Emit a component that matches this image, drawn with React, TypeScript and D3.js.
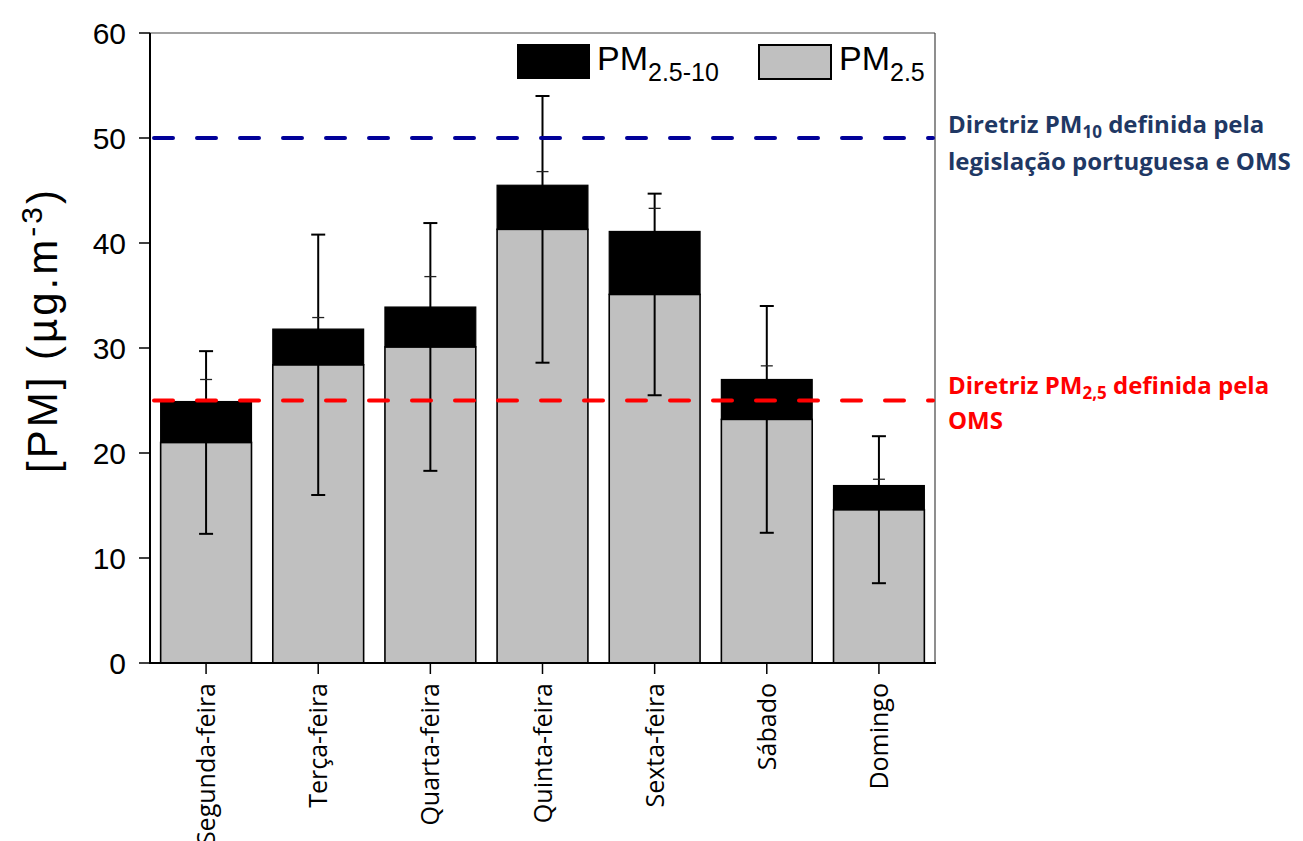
import React from "react";
import { scaleLinear, scaleBand } from "d3";

const days = ["Segunda-feira", "Terça-feira", "Quarta-feira", "Quinta-feira", "Sexta-feira", "Sábado", "Domingo"];
const pm25 = [21.0, 28.4, 30.1, 41.3, 35.1, 23.2, 14.6];
const pmCoarse = [3.9, 3.4, 3.8, 4.2, 6.0, 3.8, 2.3];
const pm25Err = [8.7, 12.4, 11.8, 12.7, 9.6, 10.8, 7.0];
const pmTotalErr = [2.1, 1.1, 2.9, 1.3, 2.2, 1.3, 0.6];
const yTicks = [0, 10, 20, 30, 40, 50, 60];
const pm10Limit = 50;
const pm25Limit = 25;

const App = () => {
    const width = 1303;
    const height = 841;
    const left = 150, right = 935, top = 33, bottom = 663;

    // scales
    const y = scaleLinear().domain([0, 60]).range([bottom, top]);
    const x = scaleBand<string>().domain(days).range([left, right]).paddingInner(0.19).paddingOuter(0.095);
    const bw = x.bandwidth();

    const bars = days.map((d, i) => {
        const x0 = x(d) as number;
        const cx = x0 + bw / 2;
        const total = pm25[i] + pmCoarse[i];
        return (
            <g key={d}>
                <rect x={x0} y={y(pm25[i])} width={bw} height={bottom - y(pm25[i])}
                    fill="#C0C0C0" stroke="#000" strokeWidth={1.6} />
                <rect x={x0} y={y(total)} width={bw} height={y(pm25[i]) - y(total)}
                    fill="#000" stroke="#000" strokeWidth={1.2} />
                {/* PM2.5 error bar */}
                <line x1={cx} x2={cx} y1={y(pm25[i] - pm25Err[i])} y2={y(pm25[i] + pm25Err[i])} stroke="#000" strokeWidth={2} />
                <line x1={cx - 7} x2={cx + 7} y1={y(pm25[i] + pm25Err[i])} y2={y(pm25[i] + pm25Err[i])} stroke="#000" strokeWidth={2} />
                <line x1={cx - 7} x2={cx + 7} y1={y(pm25[i] - pm25Err[i])} y2={y(pm25[i] - pm25Err[i])} stroke="#000" strokeWidth={2} />
                {/* total error bar (up only) */}
                <line x1={cx - 6} x2={cx + 6} y1={y(total + pmTotalErr[i])} y2={y(total + pmTotalErr[i])} stroke="#222" strokeWidth={1.3} />
            </g>
        );
    });

    const yAxis = yTicks.map((t) => (
        <g key={t}>
            <line x1={left - 11} x2={left} y1={y(t)} y2={y(t)} stroke="#000" strokeWidth={1.5} />
            <text x={126} y={y(t)} dy="0.36em" textAnchor="end" fontSize={30}
                fontFamily="Liberation Sans, Arial, sans-serif">{t}</text>
        </g>
    ));

    const xAxis = days.map((d) => {
        const cx = (x(d) as number) + bw / 2;
        return (
            <g key={d}>
                <line x1={cx} x2={cx} y1={bottom} y2={bottom + 11} stroke="#000" strokeWidth={1.5} />
                <text transform={`translate(${cx},${bottom + 20}) rotate(-90)`} dy="0.36em"
                    textAnchor="end" fontSize={25} fontFamily="Open Sans, sans-serif">{d}</text>
            </g>
        );
    });

    return (
        <svg width={width} height={height} viewBox={`0 0 ${width} ${height}`}
            style={{ position: "absolute", left: 0, top: 0, background: "#fff" }}>
            {bars}
            {/* frame */}
            <line x1={left} x2={right} y1={top} y2={top} stroke="#444" strokeWidth={1.2} />
            <line x1={right} x2={right} y1={top} y2={bottom} stroke="#444" strokeWidth={1.2} />
            <line x1={left} x2={left} y1={top} y2={bottom} stroke="#000" strokeWidth={2} />
            <line x1={left - 1} x2={right + 1} y1={bottom} y2={bottom} stroke="#000" strokeWidth={2} />
            {/* guideline lines */}
            <line x1={left + 4} x2={right - 2} y1={y(pm10Limit)} y2={y(pm10Limit)} stroke="#000099"
                strokeWidth={4} strokeDasharray="19 24" strokeLinecap="round" />
            <line x1={left + 4} x2={right - 2} y1={y(pm25Limit)} y2={y(pm25Limit)} stroke="#FF0000"
                strokeWidth={4} strokeDasharray="19 24" strokeLinecap="round" />
            {yAxis}
            {xAxis}
            <text transform="translate(42,330) rotate(-90)" dy="0.36em" textAnchor="middle" fontSize={42}
                letterSpacing={3} fontFamily="Liberation Sans, Arial, sans-serif">
                [PM] (µg.m<tspan dy="-15" fontSize={30}>-3</tspan><tspan dy="15">)</tspan>
            </text>
            {/* legend */}
            <rect x={517} y={44} width={73} height={35} fill="#000" />
            <text x={597} y={70} fontSize={34} fontFamily="Liberation Sans, Arial, sans-serif">
                PM<tspan dy="11" fontSize={25}>2.5-10</tspan>
            </text>
            <rect x={759} y={45} width={72} height={34} fill="#C0C0C0" stroke="#000" strokeWidth={2} />
            <text x={839} y={70} fontSize={34} fontFamily="Liberation Sans, Arial, sans-serif">
                PM<tspan dy="11" fontSize={25}>2.5</tspan>
            </text>
            {/* annotations */}
            <g fontFamily="Open Sans, sans-serif" fontWeight="bold" fontSize={24}>
                <text x={948} y={133} fill="#1F3864">
                    Diretriz PM<tspan dy="5" fontSize={17}>10</tspan><tspan dy="-5"> definida pela</tspan>
                </text>
                <text x={948} y={170} fill="#1F3864">legislação portuguesa e OMS</text>
                <text x={948} y={394} fill="#FF0000">
                    Diretriz PM<tspan dy="5" fontSize={17}>2,5</tspan><tspan dy="-5"> definida pela</tspan>
                </text>
                <text x={948} y={429} fill="#FF0000">OMS</text>
            </g>
        </svg>
    );
};

export default App;
